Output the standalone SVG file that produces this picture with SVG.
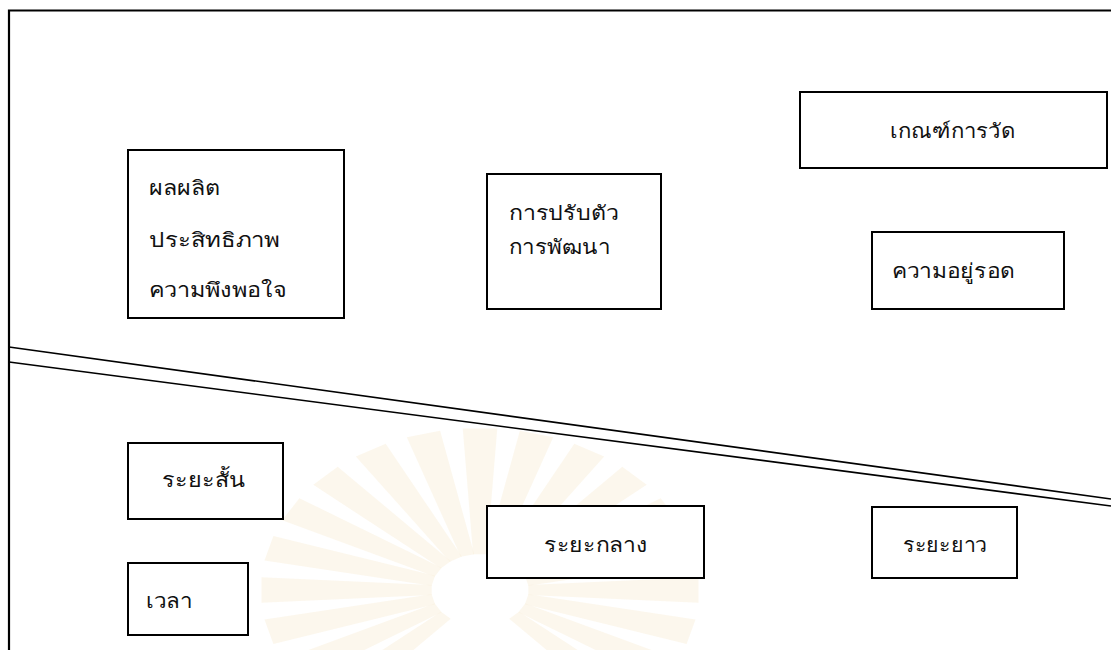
<svg xmlns="http://www.w3.org/2000/svg" width="1111" height="650" viewBox="0 0 1111 650">
<style>
.box{fill:#fff;stroke:#000;stroke-width:2}
.frame{fill:none;stroke:#000;stroke-width:2.2}
.div{fill:none;stroke:#000;stroke-width:1.6}
.t{font-family:"Liberation Serif","Noto Sans",serif;font-size:20px;fill:#111}
.ray{fill:#f8eed6;opacity:0.45}
</style>
<defs>
<polygon id="r" points="-6,-42 6,-42 15,-190 -15,-190"/>
</defs>
<rect width="1111" height="650" fill="#fff"/>
<g id="watermark">
<g transform="translate(480,590) scale(1.15,0.85)">
<use href="#r" class="ray" transform="rotate(-90)"/>
<use href="#r" class="ray" transform="rotate(-75)"/>
<use href="#r" class="ray" transform="rotate(-60)"/>
<use href="#r" class="ray" transform="rotate(-45)"/>
<use href="#r" class="ray" transform="rotate(-30)"/>
<use href="#r" class="ray" transform="rotate(-15)"/>
<use href="#r" class="ray" transform="rotate(0)"/>
<use href="#r" class="ray" transform="rotate(15)"/>
<use href="#r" class="ray" transform="rotate(30)"/>
<use href="#r" class="ray" transform="rotate(45)"/>
<use href="#r" class="ray" transform="rotate(60)"/>
<use href="#r" class="ray" transform="rotate(75)"/>
<use href="#r" class="ray" transform="rotate(90)"/>
<use href="#r" class="ray" transform="rotate(105)"/>
<use href="#r" class="ray" transform="rotate(120)"/>
<use href="#r" class="ray" transform="rotate(-105)"/>
<use href="#r" class="ray" transform="rotate(-120)"/>
<use href="#r" class="ray" transform="rotate(-135)"/>
<use href="#r" class="ray" transform="rotate(135)"/>
</g>
</g>
<g id="connectors">
<path class="frame" d="M9,650 V10.5 H1111"/>
<line class="div" x1="9" y1="347" x2="1111" y2="499"/>
<line class="div" x1="9" y1="362" x2="1111" y2="506"/>
</g>
<g id="n-outputs">
<rect class="box" x="128" y="150" width="216" height="168"/>
<text class="t" x="149" y="195" textLength="71" lengthAdjust="spacingAndGlyphs">ผลผลิต</text>
<text class="t" x="149" y="247" textLength="131" lengthAdjust="spacingAndGlyphs">ประสิทธิภาพ</text>
<text class="t" x="149" y="297" textLength="138" lengthAdjust="spacingAndGlyphs">ความพึงพอใจ</text>
</g>
<g id="n-adapt">
<rect class="box" x="487" y="174" width="174" height="135"/>
<text class="t" x="509" y="220" textLength="110" lengthAdjust="spacingAndGlyphs">การปรับตัว</text>
<text class="t" x="509" y="254" textLength="101" lengthAdjust="spacingAndGlyphs">การพัฒนา</text>
</g>
<g id="n-criteria">
<rect class="box" x="800" y="92" width="307" height="76"/>
<text class="t" x="890" y="138" textLength="125" lengthAdjust="spacingAndGlyphs">เกณฑ์การวัด</text>
</g>
<g id="n-survival">
<rect class="box" x="872" y="232" width="192" height="77"/>
<text class="t" x="892" y="278" textLength="123" lengthAdjust="spacingAndGlyphs">ความอยู่รอด</text>
</g>
<g id="n-short">
<rect class="box" x="128" y="443" width="155" height="76"/>
<text class="t" x="162" y="487" textLength="83" lengthAdjust="spacingAndGlyphs">ระยะสั้น</text>
</g>
<g id="n-time">
<rect class="box" x="128" y="563" width="120" height="72"/>
<text class="t" x="146" y="608" textLength="46" lengthAdjust="spacingAndGlyphs">เวลา</text>
</g>
<g id="n-mid">
<rect class="box" x="487" y="506" width="217" height="72"/>
<text class="t" x="544" y="552" textLength="103" lengthAdjust="spacingAndGlyphs">ระยะกลาง</text>
</g>
<g id="n-long">
<rect class="box" x="872" y="507" width="145" height="71"/>
<text class="t" x="903" y="552" textLength="84" lengthAdjust="spacingAndGlyphs">ระยะยาว</text>
</g>
</svg>
